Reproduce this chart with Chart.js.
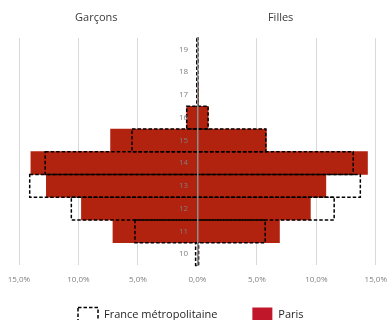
<!DOCTYPE html>
<html lang="fr">
<head>
<meta charset="utf-8">
<script src="https://cdn.jsdelivr.net/npm/chart.js@4.4.1/dist/chart.umd.min.js"></script>
<style>
  html, body { margin: 0; padding: 0; background: #ffffff; overflow: hidden; }
  #cadre { position: relative; width: 387px; height: 320px; }
</style>
</head>
<body>
<div id="cadre"><canvas id="pyramide"></canvas></div>
<script>
// Âges (de bas en haut) et parts en % par sexe
const ages = ['10', '11', '12', '13', '14', '15', '16', '17', '18', '19'];
const franceGarcons = [0.15, 5.25, 10.6, 14.1, 12.8, 5.5, 0.9, 0.05, 0.05, 0.05];
const franceFilles  = [0.1, 5.7, 11.5, 13.7, 13.1, 5.75, 0.9, 0.05, 0.05, 0.05];
const parisGarcons  = [0, 7.1, 9.75, 12.7, 14.0, 7.3, 0.9, 0, 0, 0];
const parisFilles   = [0.05, 6.9, 9.5, 10.8, 14.3, 5.8, 0.9, 0.1, 0, 0];

// Graduations de l'axe horizontal et leurs libellés
const graduations = [-15, -10, -5, 0, 5, 10, 15];
const libellesX = ['15,0%', '10,0%', '5,0%', '0,0%', '5,0%', '10,0%', '15,0%'];
const titresCotes = ['Garçons', 'Filles'];
const nomsSeries = ['France métropolitaine', 'Paris'];

const POLICE = '"Open Sans", "DejaVu Sans", sans-serif';
Chart.defaults.font.family = POLICE;

// Garçons à gauche (valeurs négatives), filles à droite : une barre flottante par âge
const barres = (g, f) => g.map((v, i) => [-v, f[i]]);

// Contours en pointillés de la série France, tracés sur la géométrie des barres
const contoursPointilles = {
  id: 'contoursPointilles',
  afterDatasetsDraw(chart) {
    const meta = chart.getDatasetMeta(0);
    const ctx = chart.ctx;
    ctx.save();
    ctx.strokeStyle = '#000000';
    ctx.lineWidth = 1.5;
    ctx.setLineDash([3.5, 2]);
    meta.data.forEach(bar => {
      const { x, y, base, height } = bar.getProps(['x', 'y', 'base', 'height'], true);
      const gauche = Math.min(x, base);
      ctx.strokeRect(gauche, y - height / 2, Math.abs(x - base), height);
    });
    ctx.restore();
  }
};

// En-têtes « Garçons » / « Filles » au-dessus de chaque moitié
const enTetes = {
  id: 'enTetes',
  afterDraw(chart) {
    const { ctx, scales: { x } } = chart;
    ctx.save();
    ctx.font = '11px ' + POLICE;
    ctx.fillStyle = '#3a3a3a';
    ctx.textAlign = 'center';
    ctx.textBaseline = 'middle';
    ctx.fillText(titresCotes[0], x.getPixelForValue(-8.5), 18);
    ctx.fillText(titresCotes[1], x.getPixelForValue(7), 18);
    ctx.restore();
  }
};

// Légende en bas de la figure
const legendeBas = {
  id: 'legendeBas',
  afterDraw(chart) {
    const ctx = chart.ctx;
    const yMilieu = 315, larg = 20, haut = 15, ecartTexte = 6, ecartItems = 35;
    let xPos = 78;
    ctx.save();
    ctx.font = '11px ' + POLICE;
    ctx.textBaseline = 'middle';
    ctx.textAlign = 'left';
    chart.data.datasets.forEach((ds) => {
      if (ds.pointilles) {
        ctx.strokeStyle = '#000000';
        ctx.lineWidth = 1.5;
        ctx.setLineDash([3.5, 2]);
        ctx.strokeRect(xPos, yMilieu - haut / 2, larg, haut);
        ctx.setLineDash([]);
      } else {
        ctx.fillStyle = ds.couleurLegende;
        ctx.fillRect(xPos, yMilieu - haut / 2, larg, haut);
      }
      ctx.fillStyle = '#262626';
      const xTexte = xPos + larg + ecartTexte;
      ctx.fillText(ds.label, xTexte, yMilieu);
      xPos = xTexte + ctx.measureText(ds.label).width + ecartItems;
    });
    ctx.restore();
  }
};

new Chart(document.getElementById('pyramide'), {
  type: 'bar',
  data: {
    labels: ages,
    datasets: [
      {
        label: nomsSeries[0],
        data: barres(franceGarcons, franceFilles),
        backgroundColor: 'rgba(0,0,0,0)',
        borderWidth: 0,
        pointilles: true
      },
      {
        label: nomsSeries[1],
        data: barres(parisGarcons, parisFilles),
        backgroundColor: '#B1220F',
        borderWidth: 0,
        couleurLegende: '#C0182A'
      }
    ]
  },
  options: {
    indexAxis: 'y',
    responsive: true,
    maintainAspectRatio: false,
    animation: false,
    layout: { padding: { top: 38, left: 19, right: 11, bottom: 35 } },
    datasets: { bar: { barPercentage: 1, categoryPercentage: 1, grouped: false } },
    plugins: {
      legend: { display: false },
      tooltip: { enabled: false }
    },
    scales: {
      x: {
        min: -15,
        max: 15,
        afterBuildTicks: (scale) => { scale.ticks = graduations.map(v => ({ value: v })); },
        grid: { color: '#d9d9d9', lineWidth: 1, drawTicks: true, tickLength: 10, tickColor: 'rgba(0,0,0,0)' },
        border: { display: false },
        ticks: {
          padding: 0,
          color: '#7f7f7f',
          font: { size: 8 },
          maxRotation: 0,
          autoSkip: false,
          callback: (v, i) => libellesX[i]
        }
      },
      y: {
        position: { x: 0 },
        reverse: true,
        grid: { display: false, drawTicks: false },
        border: { display: true, color: '#8c8c8c', width: 1.5, z: 1 },
        ticks: {
          z: 1,
          color: '#7f7f7f',
          font: { size: 8 },
          // écart entre le libellé et l'axe central
          callback: (v, i) => ages[i] + '\u2002\u2002\u2009'
        }
      }
    }
  },
  plugins: [contoursPointilles, enTetes, legendeBas]
});
</script>
</body>
</html>
